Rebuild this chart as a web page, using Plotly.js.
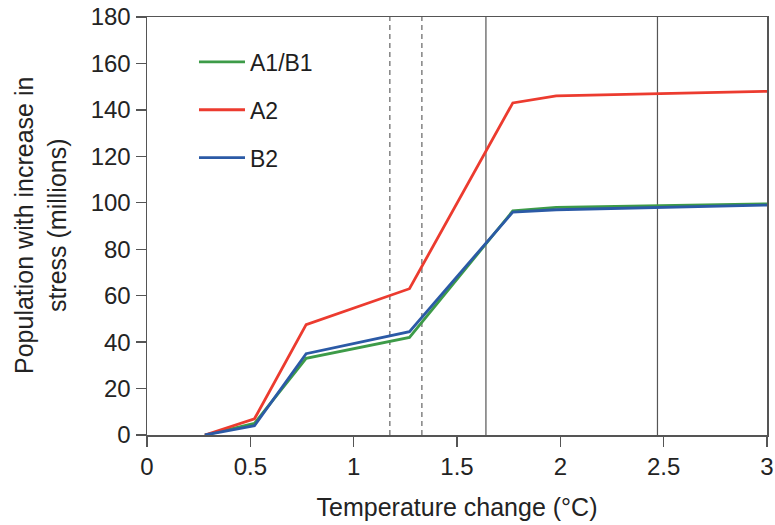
<!DOCTYPE html>
<html>
<head>
<meta charset="utf-8">
<script src="https://cdn.plot.ly/plotly-3.0.1.min.js"></script>
<style>html,body{margin:0;padding:0;background:#fff;}#chart{width:775px;height:525px;}</style>
</head>
<body>
<div id="chart"></div>
<script>
// Data
const temperature = [0.28, 0.52, 0.77, 1.27, 1.77, 1.98, 3.0];
const seriesNames = ["A1/B1", "A2", "B2"];
const seriesA1B1 = [0, 5, 33, 42, 96.5, 98, 99.5];
const seriesA2 = [0, 7, 47.5, 63, 143, 146, 148];
const seriesB2 = [0, 4, 35, 44.5, 96, 97, 99];
const seriesColors = ["#3d9b48", "#ec3b2f", "#2b5aa6"];
const dashedRefX = [1.175, 1.33];
const solidRefX = [1.64, 2.47];
const xTickVals = [0, 0.5, 1, 1.5, 2, 2.5, 3];
const xTickText = ["0", "0.5", "1", "1.5", "2", "2.5", "3"];
const yTickVals = [0, 20, 40, 60, 80, 100, 120, 140, 160, 180];
const yTitle = "Population with increase in<br>stress (millions)";
const xTitle = "Temperature change (°C)";

const FONT = "Liberation Sans, Arial, Helvetica, sans-serif";
const TXT = "#232323";
const allSeries = [seriesA1B1, seriesA2, seriesB2];

const traces = allSeries.map((vals, i) => ({
  type: "scatter",
  mode: "lines",
  x: temperature,
  y: vals,
  name: seriesNames[i],
  legendgroup: "g" + i,
  line: {color: seriesColors[i], width: 2.8}
}));

const shapes = [];
dashedRefX.forEach(v => shapes.push({
  type: "line", xref: "x", yref: "y", x0: v, x1: v, y0: 0, y1: 180,
  line: {color: "#7a7a7a", width: 1.4, dash: "5px,4px"}, layer: "below"
}));
solidRefX.forEach(v => shapes.push({
  type: "line", xref: "x", yref: "y", x0: v, x1: v, y0: 0, y1: 180,
  line: {color: "#555555", width: 1.2}, layer: "below"
}));

const layout = {
  width: 775, height: 525,
  margin: {l: 147, r: 8, t: 17, b: 90},
  paper_bgcolor: "#ffffff",
  plot_bgcolor: "#ffffff",
  font: {family: FONT, size: 24, color: TXT},
  showlegend: true,
  legend: {
    x: 0.0758, y: 0.944, xanchor: "left", yanchor: "top",
    traceorder: "grouped",
    tracegroupgap: 15,
    itemwidth: 46,
    bgcolor: "rgba(0,0,0,0)",
    font: {family: FONT, size: 23, color: "#1e1e1e"}
  },
  xaxis: {
    range: [0, 3],
    tickvals: xTickVals, ticktext: xTickText,
    showline: true, linecolor: "#555555", linewidth: 1.5, mirror: true,
    ticks: "outside", ticklen: 10, tickwidth: 1.3, tickcolor: "#555555",
    showgrid: false, zeroline: false,
    tickfont: {family: FONT, size: 24, color: TXT},
    title: {text: xTitle, font: {family: FONT, size: 25, color: TXT}, standoff: 19}
  },
  yaxis: {
    range: [0, 180],
    tickvals: yTickVals,
    showline: true, linecolor: "#555555", linewidth: 1.5, mirror: true,
    ticks: "outside", ticklen: 10, tickwidth: 1.3, tickcolor: "#555555",
    showgrid: false, zeroline: false,
    tickfont: {family: FONT, size: 24, color: TXT}
  },
  annotations: [{
    text: yTitle, xref: "paper", yref: "paper", x: 0, y: 0.5,
    xanchor: "center", yanchor: "middle", xshift: -107, textangle: -90,
    showarrow: false, font: {family: FONT, size: 25, color: TXT}
  }],
  shapes: shapes
};

Plotly.newPlot("chart", traces, layout, {displayModeBar: false, staticPlot: true});
</script>
</body>
</html>
